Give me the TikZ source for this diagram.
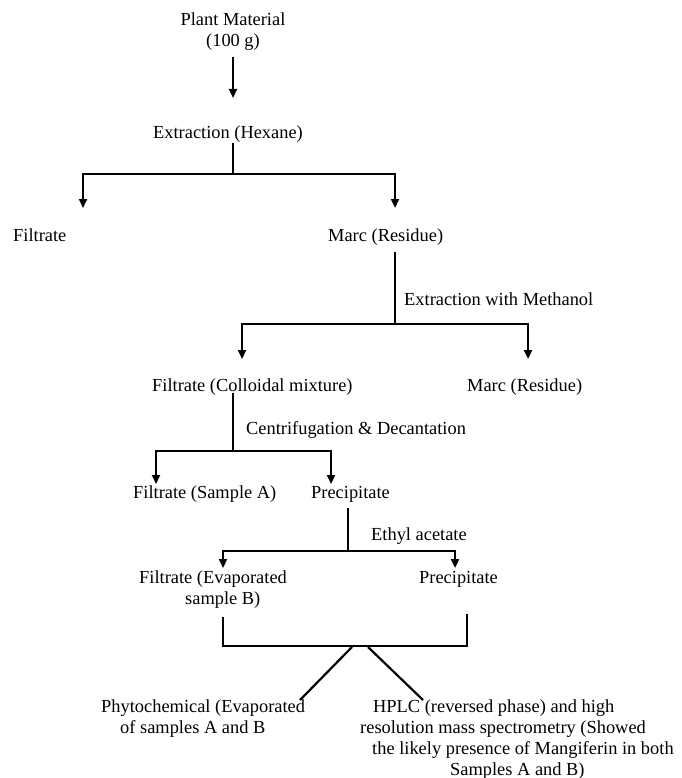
\documentclass[tikz,border=0pt]{standalone}
\usepackage{fontspec}
\setmainfont{Liberation Serif}
\usetikzlibrary{arrows.meta}
\begin{document}
\begin{tikzpicture}[x=1pt,y=-1pt,
  txt/.style={anchor=base west,inner sep=0pt,font=\fontsize{18.4}{21}\selectfont},
  ln/.style={line width=2.2pt},
  arr/.style={ln,-{Triangle[width=8pt,length=9pt]}}]
\useasboundingbox[fill=white] (0,0) rectangle (681,778);
% text nodes (multi-line nodes are placed by the baseline of their last line)
\node[txt,anchor=base,align=center] (pm) at (233,47) {Plant Material\\(100 g)};
\node[txt,anchor=base] (ext1) at (228,139) {Extraction (Hexane)};
\node[txt] (fil1) at (13,241) {Filtrate};
\node[txt] (marc1) at (328,241) {Marc (Residue)};
\node[txt] (meth) at (404,305) {Extraction with Methanol};
\node[txt] (fil2) at (152,391) {Filtrate (Colloidal mixture)};
\node[txt] (marc2) at (467,391) {Marc (Residue)};
\node[txt] (cent) at (246,434) {Centrifugation \& Decantation};
\node[txt] (filA) at (133,498) {Filtrate (Sample A)};
\node[txt] (precA) at (311,498) {Precipitate};
\node[txt] (ethyl) at (371,540) {Ethyl acetate};
\node[txt,align=left] (filB) at (139,604) {Filtrate (Evaporated\\\hspace*{46pt}sample B)};
\node[txt] (precB) at (419,583) {Precipitate};
\node[txt,align=left] (phyto) at (101,733) {Phytochemical (Evaporated\\\hspace*{19pt}of samples A and B};
\node[txt,align=left] (hplc) at (360,775) {\hspace*{13pt}HPLC (reversed phase) and high\\resolution mass spectrometry (Showed\\\hspace*{12pt}the likely presence of Mangiferin in both\\\hspace*{90pt}Samples A and B)};
% coordinates
\coordinate (a1s) at (233,57);
\coordinate (a1e) at (233,98);
\coordinate (b1s) at (233,143);
\coordinate (j1) at (233,174);
\coordinate (t1l) at (83,208);
\coordinate (t1r) at (395,208);
\coordinate (b2s) at (395,252);
\coordinate (j2) at (395,324);
\coordinate (t2l) at (242,359);
\coordinate (t2r) at (528,359);
\coordinate (b3s) at (233,393);
\coordinate (j3) at (233,451);
\coordinate (t3l) at (156,484);
\coordinate (t3r) at (331,484);
\coordinate (b4s) at (348,508);
\coordinate (j4) at (348,551);
\coordinate (t4l) at (223,568);
\coordinate (t4r) at (455,568);
\coordinate (bl) at (223,617);
\coordinate (blc) at (223,646);
\coordinate (brc) at (467,646);
\coordinate (br) at (467,614);
\coordinate (d1s) at (352,647);
\coordinate (d1e) at (300,700);
\coordinate (d2s) at (368,647);
\coordinate (d2e) at (423,700);
% connectors
\draw[arr] (a1s) -- (a1e);
\draw[ln] (b1s) -- (j1);
\draw[arr] (j1) -| (t1l);
\draw[arr] (j1) -| (t1r);
\draw[ln] (b2s) -- (j2);
\draw[arr] (j2) -| (t2l);
\draw[arr] (j2) -| (t2r);
\draw[ln] (b3s) -- (j3);
\draw[arr] (j3) -| (t3l);
\draw[arr] (j3) -| (t3r);
\draw[ln] (b4s) -- (j4);
\draw[arr] (j4) -| (t4l);
\draw[arr] (j4) -| (t4r);
\draw[ln] (bl) -- (blc) -- (brc) -- (br);
\draw[ln] (d1s) -- (d1e);
\draw[ln] (d2s) -- (d2e);
\end{tikzpicture}
\end{document}
